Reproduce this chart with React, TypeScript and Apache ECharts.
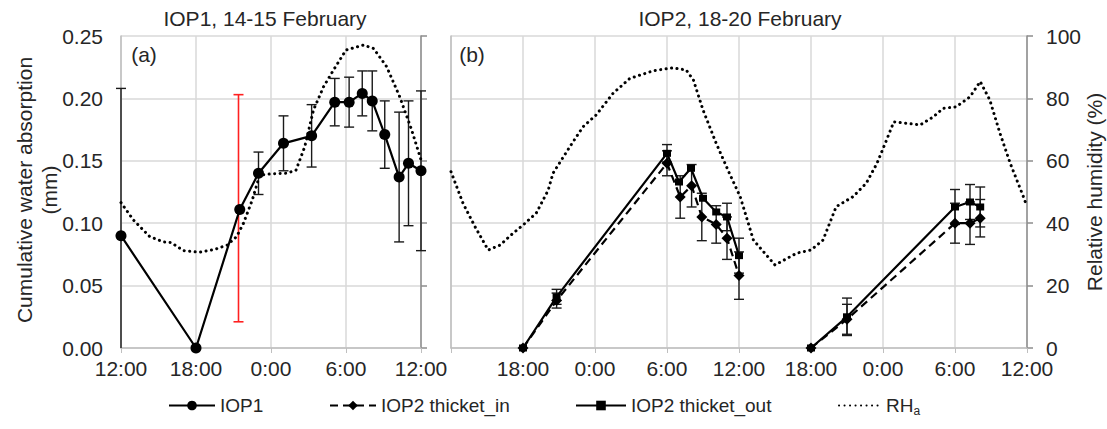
import React, { useEffect, useRef } from 'react';
import * as echarts from 'echarts';

const FONT = "'Liberation Sans', Arial, Helvetica, sans-serif";

// Panel (a): hours after 12:00 on 14 Feb
const aTickLabels = ['12:00', '18:00', '0:00', '6:00', '12:00'];
const iop1X = [0, 6, 9.5, 11, 13, 15.25, 17.1, 18.25, 19.3, 20.1, 21.1, 22.25, 23, 24];
const iop1Y = [0.09, 0, 0.111, 0.14, 0.164, 0.17, 0.197, 0.197, 0.204, 0.198, 0.171, 0.137, 0.148, 0.142];
const iop1Err = [0.118, null, null, 0.017, 0.022, 0.025, 0.019, 0.02, 0.018, 0.024, 0.027, 0.052, 0.05, 0.064];
const redErrX = [9.4];
const redErrY = [0.112];
const redErrE = [0.091];

const rhAX = [0, 1, 2.3, 3.4, 4, 5, 6.3, 7.5, 8.5, 9.25, 9.8, 10.5, 10.9, 11.1, 12, 13.25, 14, 14.7, 15.4, 16.2, 17, 18, 19.4, 20.2, 21.25, 22.3, 23.25, 24];
const rhAY = [46.6, 41, 35.7, 34, 33.8, 31.2, 30.7, 31.6, 33, 35.7, 40, 47.4, 52.8, 55.4, 55.8, 56, 57, 64.5, 76.3, 83.7, 89.1, 95.5, 97.1, 96, 90.2, 80.5, 69.9, 60.3];

// Panel (b): hours after 12:00 on 18 Feb
const bTickLabels = ['', '18:00', '0:00', '6:00', '12:00', '18:00', '0:00', '6:00', '12:00'];
const outX1 = [6, 8.8, 18, 19, 20, 21, 22.1, 23, 24];
const outY1 = [0, 0.041, 0.156, 0.133, 0.144, 0.12, 0.109, 0.105, 0.074];
const outE1 = [null, 0.006, 0.007, null, null, null, null, 0.011, 0.014];
const inX1 = [6, 8.8, 18, 19.1, 20.05, 20.9, 22.1, 23, 24];
const inY1 = [0, 0.038, 0.148, 0.121, 0.13, 0.105, 0.099, 0.088, 0.058];
const inE1 = [null, 0.006, 0.01, 0.017, 0.017, 0.019, 0.015, 0.017, 0.019];
const outX2 = [30, 33, 42, 43.25, 44.1];
const outY2 = [0, 0.025, 0.113, 0.117, 0.113];
const outE2 = [null, 0.015, 0.014, 0.014, 0.016];
const inX2 = [30, 33, 42, 43.25, 44.1];
const inY2 = [0, 0.023, 0.1, 0.1, 0.104];
const inE2 = [null, 0.012, 0.016, 0.017, 0.015];

const rhBX = [0, 1, 2, 3.1, 4.1, 5, 6, 7.1, 8.1, 8.5, 9.9, 11, 12.1, 13.5, 14.9, 16.9, 18.5, 19.6, 20.2, 21, 22.1, 23.2, 24.1, 25.2, 27, 28.8, 30, 31, 32.1, 33.5, 34.6, 35.5, 36.3, 36.9, 39.1, 40.2, 41, 42.1, 43.25, 44.1, 44.9, 45.75, 46.6, 47.7, 48];
const rhBY = [56.5, 46.4, 38.9, 31.4, 33, 36.2, 39.4, 43.2, 50.6, 56, 64.5, 70.9, 74.7, 81.6, 86.4, 88.9, 89.8, 89.1, 85.9, 76.3, 65.6, 56, 48.5, 34.6, 26.6, 30.4, 31.4, 34.6, 45.3, 48.5, 52.8, 59.2, 66.7, 72.5, 71.5, 74.1, 76.8, 77.3, 80.5, 85.4, 79.5, 68.8, 59.2, 48.5, 45.3];

const zip = (xs: number[], ys: number[]) => xs.map((x, i) => [x, ys[i]]);
const errData = (xs: number[], ys: number[], es: (number | null)[]) =>
  xs.flatMap((x, i) => (es[i] == null ? [] : [[x, ys[i] - (es[i] as number), ys[i] + (es[i] as number)]]));

const errorBar = (color: string, width: number, cap: number) => (_params: any, api: any) => {
  const x = api.value(0);
  let lo = api.value(1);
  const hi = api.value(2);
  const clipLo = lo < 0;
  if (clipLo) lo = 0;
  const a = api.coord([x, lo]);
  const b = api.coord([x, hi]);
  const style = { stroke: color, lineWidth: width };
  const children: any[] = [
    { type: 'line', shape: { x1: a[0], y1: a[1], x2: b[0], y2: b[1] }, style },
    { type: 'line', shape: { x1: b[0] - cap, y1: b[1], x2: b[0] + cap, y2: b[1] }, style },
  ];
  if (!clipLo) children.push({ type: 'line', shape: { x1: a[0] - cap, y1: a[1], x2: a[0] + cap, y2: a[1] }, style });
  return { type: 'group', children };
};

const GRID_C = '#d9d9d9';
const AXIS_C = '#bfbfbf';
const RAXIS_C = '#8c8c8c';
const TXT = '#262626';
const FS = 21;

const xAxisBase = (idx: number, max: number, labels: string[]) => ({
  type: 'value',
  gridIndex: idx,
  min: 0,
  max,
  interval: 6,
  axisLine: { show: true, onZero: false, lineStyle: { color: AXIS_C, width: 1.5 } },
  axisTick: { show: true, length: 5, lineStyle: { color: AXIS_C } },
  splitLine: { show: true, lineStyle: { color: GRID_C, width: 1.5 } },
  axisLabel: {
    margin: 10,
    fontFamily: FONT,
    fontSize: FS,
    color: TXT,
    formatter: (v: number) => labels[Math.round(v / 6)] ?? '',
  },
});

const lineSeries = (name: string, xi: number, yi: number, data: any[], opts: any) => ({
  name,
  type: 'line',
  xAxisIndex: xi,
  yAxisIndex: yi,
  data,
  z: 5,
  ...opts,
});

const errSeries = (name: string, xi: number, yi: number, data: any[], color = '#1a1a1a', w = 1.4) => ({
  name,
  type: 'custom',
  xAxisIndex: xi,
  yAxisIndex: yi,
  data,
  z: 3,
  encode: { x: 0, y: [1, 2] },
  renderItem: errorBar(color, w, 5),
  silent: true,
});

const iop1Style = {
  symbol: 'circle',
  symbolSize: 11,
  lineStyle: { color: '#000', width: 2.2 },
  itemStyle: { color: '#000' },
};
const inStyle = {
  symbol: 'diamond',
  symbolSize: 11,
  lineStyle: { color: '#000', width: 2.2, type: [8, 5] },
  itemStyle: { color: '#000' },
};
const outStyle = {
  symbol: 'rect',
  symbolSize: [8, 7],
  lineStyle: { color: '#000', width: 2.2 },
  itemStyle: { color: '#000' },
};
const rhStyle = {
  symbol: 'none',
  showSymbol: false,
  lineStyle: { color: '#000', width: 3, type: [0.1, 5.4], cap: 'round' },
  itemStyle: { color: '#000' },
};

const legendBase = (item: any, left: number, w: number) => ({
  data: [item],
  left,
  top: 396,
  padding: 0,
  itemWidth: w,
  itemHeight: 12,
  itemGap: 0,
  textStyle: {
    fontFamily: FONT,
    fontSize: 19,
    color: TXT,
    rich: { sub: { fontFamily: FONT, fontSize: 12, color: TXT, padding: [10, 0, 0, 0] } },
  },
  formatter: (n: string) => (n === 'RHa' ? 'RH{sub|a}' : n),
});

const option: any = {
  animation: false,
  backgroundColor: '#fff',
  grid: [
    { left: 121, right: 686, top: 36, bottom: 81 },
    { left: 451, right: 80, top: 36, bottom: 81 },
  ],
  xAxis: [xAxisBase(0, 24, aTickLabels), xAxisBase(1, 48, bTickLabels)],
  yAxis: [
    {
      type: 'value', gridIndex: 0, min: 0, max: 0.25, interval: 0.05, position: 'left',
      axisLine: { show: true, lineStyle: { color: AXIS_C, width: 1.5 } },
      axisTick: { show: false },
      splitLine: { show: true, lineStyle: { color: GRID_C, width: 1.5 } },
      axisLabel: { margin: 18, fontFamily: FONT, fontSize: FS, color: TXT, formatter: (v: number) => v.toFixed(2) },
    },
    {
      type: 'value', gridIndex: 0, min: 0, max: 100, interval: 20, position: 'right',
      axisLine: { show: true, lineStyle: { color: RAXIS_C, width: 1.5 } },
      axisTick: { show: true, inside: false, length: 6, lineStyle: { color: RAXIS_C, width: 1.5 } },
      splitLine: { show: false },
      axisLabel: { show: false },
    },
    {
      type: 'value', gridIndex: 1, min: 0, max: 0.25, interval: 0.05, position: 'left',
      axisLine: { show: true, lineStyle: { color: AXIS_C, width: 1.5 } },
      axisTick: { show: false },
      splitLine: { show: true, lineStyle: { color: GRID_C, width: 1.5 } },
      axisLabel: { show: false },
    },
    {
      type: 'value', gridIndex: 1, min: 0, max: 100, interval: 20, position: 'right',
      axisLine: { show: true, lineStyle: { color: RAXIS_C, width: 1.5 } },
      axisTick: { show: true, inside: false, length: 6, lineStyle: { color: RAXIS_C, width: 1.5 } },
      splitLine: { show: false },
      axisLabel: { margin: 19, fontFamily: FONT, fontSize: FS, color: TXT },
    },
  ],
  legend: [
    legendBase('IOP1', 168, 46),
    legendBase('IOP2 thicket_in', 329, 46),
    legendBase('IOP2 thicket_out', 575, 50),
    legendBase({ name: 'RHa', itemStyle: { opacity: 0 } }, 838, 42),
  ],
  graphic: [
    { type: 'text', x: 265, y: 18, style: { text: 'IOP1, 14-15 February', font: `${FS}px ${FONT}`, fill: TXT, align: 'center', verticalAlign: 'middle', textAlign: 'center', textVerticalAlign: 'middle' } },
    { type: 'text', x: 740, y: 18, style: { text: 'IOP2, 18-20 February', font: `${FS}px ${FONT}`, fill: TXT, align: 'center', verticalAlign: 'middle', textAlign: 'center', textVerticalAlign: 'middle' } },
    { type: 'text', x: 144, y: 54, style: { text: '(a)', font: `${FS}px ${FONT}`, fill: TXT, align: 'center', verticalAlign: 'middle', textAlign: 'center', textVerticalAlign: 'middle' } },
    { type: 'text', x: 472, y: 54, style: { text: '(b)', font: `${FS}px ${FONT}`, fill: TXT, align: 'center', verticalAlign: 'middle', textAlign: 'center', textVerticalAlign: 'middle' } },
    { type: 'text', x: 24, y: 190, rotation: Math.PI / 2, style: { text: 'Cumulative water absorption', font: `${FS}px ${FONT}`, fill: TXT, align: 'center', verticalAlign: 'middle', textAlign: 'center', textVerticalAlign: 'middle' } },
    { type: 'text', x: 49, y: 190, rotation: Math.PI / 2, style: { text: '(mm)', font: `${FS}px ${FONT}`, fill: TXT, align: 'center', verticalAlign: 'middle', textAlign: 'center', textVerticalAlign: 'middle' } },
    { type: 'text', x: 1094, y: 192, rotation: Math.PI / 2, style: { text: 'Relative humidity (%)', font: `${FS}px ${FONT}`, fill: TXT, align: 'center', verticalAlign: 'middle', textAlign: 'center', textVerticalAlign: 'middle' } },
  ],
  series: [
    lineSeries('RHa', 0, 1, zip(rhAX, rhAY), rhStyle),
    lineSeries('RHa', 1, 3, zip(rhBX, rhBY), rhStyle),
    errSeries('errIOP1', 0, 0, errData(iop1X, iop1Y, iop1Err)),
    errSeries('errRed', 0, 0, errData(redErrX, redErrY, redErrE), '#ff2020', 1.6),
    lineSeries('IOP1', 0, 0, zip(iop1X, iop1Y), iop1Style),
    errSeries('errIn1', 1, 2, errData(inX1, inY1, inE1)),
    errSeries('errOut1', 1, 2, errData(outX1, outY1, outE1)),
    errSeries('errIn2', 1, 2, errData(inX2, inY2, inE2)),
    errSeries('errOut2', 1, 2, errData(outX2, outY2, outE2)),
    lineSeries('IOP2 thicket_in', 1, 2, zip(inX1, inY1), inStyle),
    lineSeries('IOP2 thicket_in', 1, 2, zip(inX2, inY2), inStyle),
    lineSeries('IOP2 thicket_out', 1, 2, zip(outX1, outY1), outStyle),
    lineSeries('IOP2 thicket_out', 1, 2, zip(outX2, outY2), outStyle),
  ],
};

export default function App() {
  const ref = useRef<HTMLDivElement>(null);
  useEffect(() => {
    const chart = echarts.init(ref.current!, null, { renderer: 'svg' });
    chart.setOption(option);
    return () => chart.dispose();
  }, []);
  return <div ref={ref} style={{ position: 'absolute', left: 0, top: 0, width: 1107, height: 429 }} />;
}
